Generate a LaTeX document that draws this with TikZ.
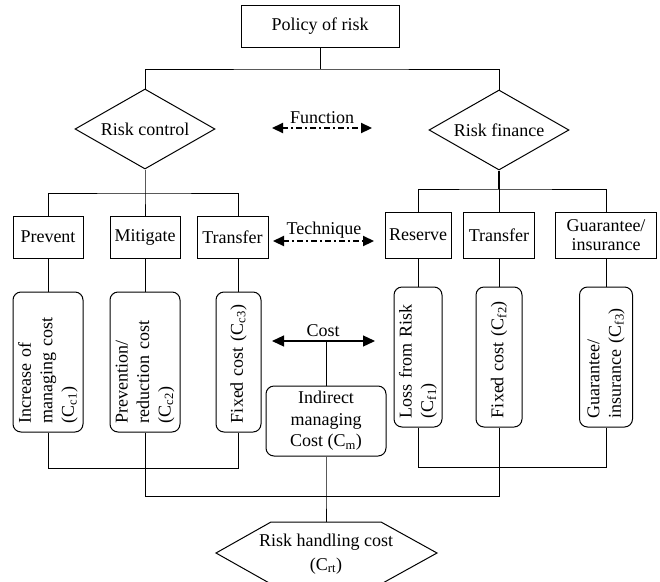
\documentclass[tikz,border=0pt]{standalone}
\usepackage{fontspec}
\setmainfont{Liberation Serif}
\usetikzlibrary{shapes.geometric,arrows.meta}
\newcommand\txt{\fontsize{18}{21.5}\selectfont}
\begin{document}
\begin{tikzpicture}[x=1pt,y=-1pt,font=\txt]
\tikzset{
  plain/.style={draw,line width=1pt,inner sep=0pt,align=center},
  choice/.style={draw,diamond,line width=1pt,aspect=1.75,minimum width=140pt,
    minimum height=80pt,inner sep=0pt},
  costbox/.style={draw,line width=1pt,rounded corners=8pt,rotate=90,
    minimum width=140pt,inner xsep=9pt,inner ysep=0pt,text width=122pt,align=left},
  link/.style={line width=1pt},
  dashdot/.style={line width=2.2pt,dash pattern=on 6pt off 3pt on 2pt off 3pt,
    {Triangle[length=11pt,width=10pt]}-{Triangle[length=11pt,width=10pt]}},
  solidarrow/.style={line width=1.2pt,
    {Triangle[length=12pt,width=11pt]}-{Triangle[length=12pt,width=11pt]}}
}
\useasboundingbox (0,0) rectangle (660,581);

% top level
\node[plain,minimum width=158pt,minimum height=42pt] (policy) at (320,26) {Policy of risk};
\node[choice] (rc) at (145,129) {Risk control};
\node[choice] (rf) at (499,130) {Risk finance};

% techniques
\node[plain,minimum width=70pt,minimum height=42pt] (pv) at (48,237) {Prevent};
\node[plain,minimum width=70pt,minimum height=42pt] (mt) at (145,237) {Mitigate};
\node[plain,minimum width=71pt,minimum height=42pt] (tr1) at (232.5,237) {Transfer};
\node[plain,minimum width=66pt,minimum height=46pt] (rs) at (418,235) {Reserve};
\node[plain,minimum width=71pt,minimum height=46pt] (tr2) at (499,235) {Transfer};
\node[plain,minimum width=101pt,minimum height=46pt,
  font=\fontsize{18}{19}\selectfont] (gi) at (606,235) {Guarantee/\\insurance};

% cost items
\node[costbox,minimum height=70pt] (c1) at (48,362) {Increase of\\managing cost\\(C\textsubscript{c1})};
\node[costbox,minimum height=70pt] (c2) at (145,362) {Prevention/\\reduction cost\\(C\textsubscript{c2})};
\node[costbox,minimum height=45pt] (c3) at (238.5,362) {Fixed cost (C\textsubscript{c3})};
\node[costbox,minimum height=48pt] (c4) at (418,357) {Loss from Risk\\(C\textsubscript{f1})};
\node[costbox,minimum height=46pt] (c5) at (499,357) {Fixed cost (C\textsubscript{f2})};
\node[costbox,minimum height=53pt] (c6) at (606,357) {Guarantee/\\insurance (C\textsubscript{f3})};

\node[plain,rounded corners=8pt,minimum width=120pt,minimum height=70pt] (im) at (326,421)
  {Indirect\\managing\\Cost (C\textsubscript{m})};

% middle labels and arrows
\coordinate (fa) at (272,128);
\coordinate (fb) at (372,128);
\draw[dashdot] (fa) -- (fb);
\node[anchor=base] (fl) at (322,123) {Function};

\coordinate (ta) at (273,241);
\coordinate (tb) at (374,241);
\draw[dashdot] (ta) -- (tb);
\node[anchor=base] (tl) at (324,234) {Technique};

\coordinate (ca) at (272,341);
\coordinate (cb) at (375,341);
\draw[solidarrow] (ca) -- (cb);
\node[anchor=base] (cl) at (323,336) {Cost};
\draw[link] (im.north) -- (im.north |- ca);

% tree connectors
\coordinate (top) at (320,69);
\draw[link] (policy.south) -- (top);
\draw[link] (rc.north) |- (top) -| (rf.north);

\coordinate (jl) at (145,193);
\draw[link] (rc.south) -- (jl) -- (mt.north);
\draw[link] (pv.north) |- (jl) -| (c3 |- tr1.north);

\coordinate (jr) at (499,189);
\draw[line width=1.5pt] (rf.south) -- (jr);
\draw[link] (jr) -- (tr2.north);
\draw[link] (rs.north) |- (jr) -| (gi.north);

\draw[link] (pv.south) -- (c1.east);
\draw[link] (mt.south) -- (c2.east);
\draw[link] (c3 |- tr1.south) -- (c3.east);
\draw[link] (rs.south) -- (c4.east);
\draw[link] (tr2.south) -- (c5.east);
\draw[link] (gi.south) -- (c6.east);

% gathering of costs
\draw[link] (c1.west) -- ++(0,36) -| (c3.west);
\draw[link] (c4.west) -- ++(0,40) -| (c6.west);
\coordinate (hub) at (326,496);
\coordinate (hx) at (326,522);
\draw[link] (c2.west) |- (hub) -| (c5.west);
\draw[link] (im.south) -- (hub) -- (hx);

% total cost
\draw[link] (271,522) -- (381,522) -- (437,553) -- (381,584) -- (271,584) -- (216,553) -- cycle;
\node[align=center,font=\fontsize{18}{24}\selectfont] (rhc) at (326,554)
  {Risk handling cost\\(C\textsubscript{rt})};
\end{tikzpicture}
\end{document}
